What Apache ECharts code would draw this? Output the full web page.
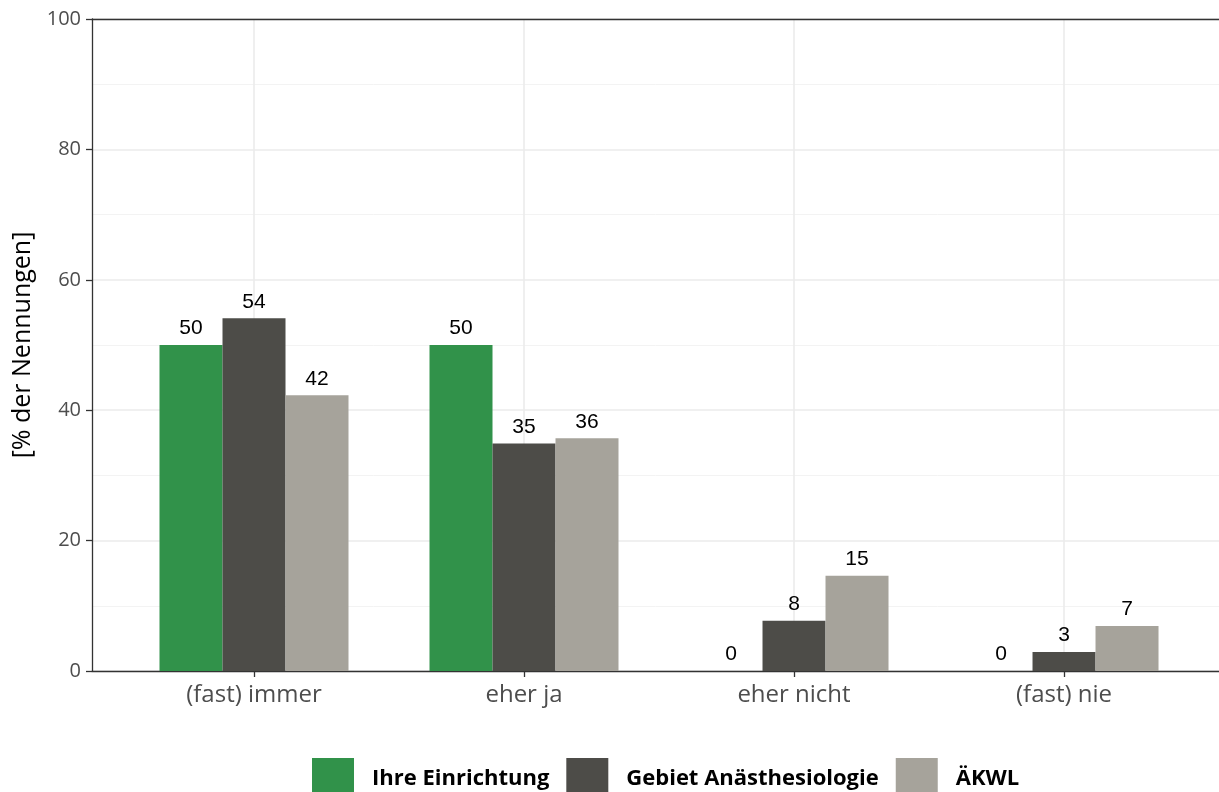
<!DOCTYPE html>
<html>
<head>
<meta charset="utf-8">
<script src="https://cdn.jsdelivr.net/npm/echarts@6/dist/echarts.min.js"></script>
<style>html,body{margin:0;padding:0;background:#fff;}#c{width:1219px;height:792px;}</style>
</head>
<body>
<div id="c"></div>
<script>
var categories = ['(fast) immer', 'eher ja', 'eher nicht', '(fast) nie'];
var seriesNames = ['Ihre Einrichtung', 'Gebiet Anästhesiologie', 'ÄKWL'];
var einrichtung = [50, 50, 0, 0];
var gebiet = [54.1, 34.9, 7.7, 2.9];
var aekwl = [42.3, 35.7, 14.6, 6.9];
var yTicks = [0, 20, 40, 60, 80, 100];
var colors = ['#31924a', '#4d4c48', '#a6a39b'];

var chart = echarts.init(document.getElementById('c'));
function mk(name, vals, color) {
  return {
    name: name, type: 'bar', barWidth: 63, barGap: '0%', z: 10,
    data: vals.map(function (v, i) { return [i, v]; }),
    itemStyle: { color: color },
    label: { show: true, position: 'top', distance: 6, color: '#000',
      fontFamily: 'Liberation Sans, Arial', fontSize: 21,
      formatter: function (p) { return Math.round(p.value[1]); } }
  };
}
var idx = categories.map(function (c, i) { return i; });
chart.setOption({
  animation: false,
  grid: { left: 92, right: 0, top: 19, bottom: 121, containLabel: false },
  legend: {
    top: 753, left: 307, itemWidth: 42, itemHeight: 42, itemGap: 17,
    icon: 'rect',
    textStyle: { fontFamily: 'Open Sans', fontWeight: 'bold', fontSize: 22, color: '#000', padding: [0, 0, 0, 13] },
    data: seriesNames
  },
  xAxis: [{
    type: 'value', min: -0.6, max: 3.574, z: 0,
    axisLine: { show: true, onZero: false, lineStyle: { color: '#333', width: 1.3 } },
    axisTick: { show: true, length: 6, lineStyle: { color: '#333', width: 1.3 }, customValues: idx },
    axisLabel: { customValues: idx, margin: 12, color: '#4d4d4d', fontFamily: 'Open Sans', fontSize: 24,
      formatter: function (v) { return categories[Math.round(v)] || ''; } },
    splitLine: { show: true, lineStyle: { color: '#ebebeb', width: 1.6 } }
  }, {
    type: 'value', position: 'top', min: -0.6, max: 3.574, z: 0,
    axisLine: { show: true, onZero: false, lineStyle: { color: '#333', width: 1.3 } },
    axisTick: { show: false }, axisLabel: { show: false }, splitLine: { show: false }
  }],
  yAxis: {
    type: 'value', min: 0, max: 100, interval: 20, z: 0,
    name: '[% der Nennungen]', nameLocation: 'middle', nameGap: 56, nameRotate: 90,
    nameTextStyle: { fontFamily: 'Open Sans', fontSize: 25, color: '#000' },
    axisLine: { show: true, onZero: false, lineStyle: { color: '#333', width: 1.3 } },
    axisTick: { show: true, length: 6, lineStyle: { color: '#333', width: 1.3 } },
    axisLabel: { margin: 11, color: '#4d4d4d', fontFamily: 'Open Sans', fontSize: 20,
      formatter: function (v) { return yTicks.indexOf(v) >= 0 ? String(v) : ''; } },
    splitLine: { show: true, lineStyle: { color: '#ebebeb', width: 1.6 } },
    minorTick: { show: false, splitNumber: 2 },
    minorSplitLine: { show: true, lineStyle: { color: '#f3f3f3', width: 1 } }
  },
  series: [mk(seriesNames[0], einrichtung, colors[0]), mk(seriesNames[1], gebiet, colors[1]), mk(seriesNames[2], aekwl, colors[2])]
});
</script>
</body>
</html>
